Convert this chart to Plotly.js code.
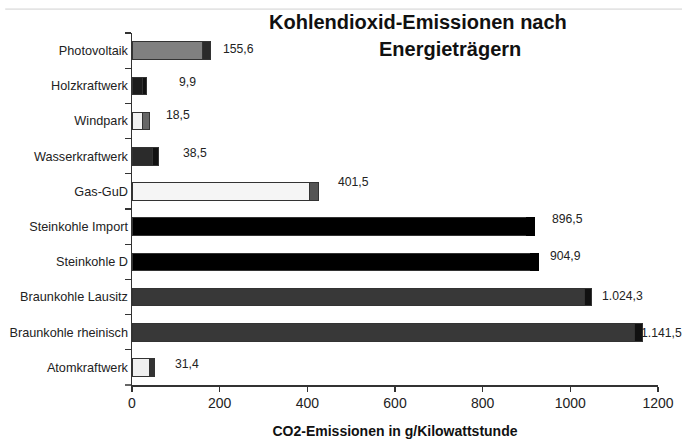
<!DOCTYPE html>
<html>
<head>
<meta charset="utf-8">
<script src="https://cdn.plot.ly/plotly-3.0.1.min.js"></script>
<style>html,body{margin:0;padding:0;background:#fff;}#chart{width:682px;height:439px;}</style>
</head>
<body>
<div id="chart"></div>
<script>
// ---- data ----
var categories = ['Photovoltaik','Holzkraftwerk','Windpark','Wasserkraftwerk','Gas-GuD','Steinkohle Import','Steinkohle D','Braunkohle Lausitz','Braunkohle rheinisch','Atomkraftwerk'];
var mainPart = [161, 24, 25, 46, 405, 900, 910, 1032, 1146, 40];
var endPart = [18, 8, 15, 15, 21, 18, 17, 16, 18, 12];
var valueLabels = ['155,6','9,9','18,5','38,5','401,5','896,5','904,9','1.024,3','1.141,5','31,4'];
var xTicks = [0, 200, 400, 600, 800, 1000, 1200];
var titleLines = ['Kohlendioxid-Emissionen nach', 'Energieträgern'];

// ---- styles ----
var mainColors = ['#808080','#1c1c1c','#f2f2f2','#2b2b2b','#f5f5f5','#000000','#000000','#383838','#383838','#f0f0f0'];
var endColors = ['#2a2a2a','#111111','#666666','#111111','#555555','#000000','#000000','#111111','#111111','#333333'];
var endLineColors = ['#333','#333','#333','#333','#333','#000','#000','#333','#333','#333'];
var labelDx = [11, 31, 14, 22, 17, 16, 10, 9, -3, 18];
var labelDy = [2, 4, 6, 3, 9, 8, 6, 1, -1, 3];

var font = 'Liberation Sans, Arial, sans-serif';

var traces = [
  {type:'bar', orientation:'h', y:categories, x:mainPart, marker:{color:mainColors, line:{color:'#333', width:1}}, hoverinfo:'none'},
  {type:'bar', orientation:'h', y:categories, x:endPart, marker:{color:endColors, line:{color:endLineColors, width:1}}, hoverinfo:'none'}
];

var annotations = categories.map(function(c, i){
  return {x: mainPart[i] + endPart[i], y: c, xref:'x', yref:'y', text: valueLabels[i], showarrow:false,
    xanchor:'left', yanchor:'middle', xshift: labelDx[i], yshift: labelDy[i],
    font:{family:font, size:12.2, color:'#222'}};
});
annotations.push({xref:'paper', yref:'paper', x:0.5437, y:1.031, xanchor:'center', yanchor:'middle',
  text:'<b>' + titleLines[0] + '</b>', showarrow:false, font:{family:font, size:20, color:'#111'}});
annotations.push({xref:'paper', yref:'paper', x:0.6046, y:0.9545, xanchor:'center', yanchor:'middle',
  text:'<b>' + titleLines[1] + '</b>', showarrow:false, font:{family:font, size:20, color:'#111'}});

var layout = {
  width:682, height:439,
  margin:{l:132, r:24, t:33, b:54},
  paper_bgcolor:'#fff', plot_bgcolor:'#fff',
  barmode:'stack', bargap:0.5, showlegend:false,
  font:{family:font, color:'#222'},
  xaxis:{range:[0,1200], tickvals:xTicks, ticks:'outside', ticklen:5, tickcolor:'#333', tickwidth:1.3,
    showline:true, linecolor:'#333', linewidth:1.5, showgrid:false, zeroline:false,
    tickfont:{size:14, color:'#222'},
    title:{text:'<b>CO2-Emissionen in g/Kilowattstunde</b>', font:{size:14, color:'#111'}, standoff:17}},
  yaxis:{type:'category', autorange:'reversed', ticks:'outside', tickson:'boundaries', ticklen:6, tickcolor:'#333', tickwidth:1.3,
    showline:true, linecolor:'#333', linewidth:1.5, showgrid:false, zeroline:false,
    tickfont:{size:12.7, color:'#222'}},
  annotations: annotations,
  shapes:[
    {type:'line', xref:'paper', yref:'paper', x0:-0.241, x1:1.05, y0:1.068, y1:1.068, line:{color:'#d0d0d0', width:1}},
    {type:'line', xref:'paper', yref:'paper', x0:-0.0133, x1:0, y0:0, y1:0, line:{color:'#333', width:1.5}}
  ]
};

Plotly.newPlot('chart', traces, layout, {displayModeBar:false, staticPlot:true});
</script>
</body>
</html>
